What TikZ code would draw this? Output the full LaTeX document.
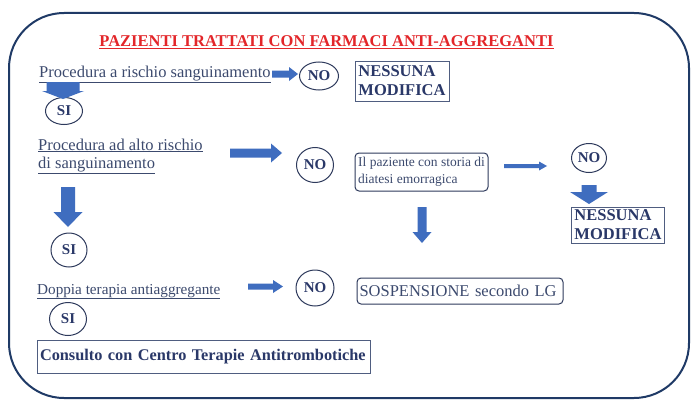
\documentclass[tikz,border=0pt]{standalone}
\usepackage{fontspec}
\setmainfont{Liberation Serif}
\usetikzlibrary{shapes.geometric,calc}
\definecolor{framec}{HTML}{1F3A66}
\definecolor{slatec}{HTML}{3C4A6E}
\definecolor{navyc}{HTML}{2A3868}
\definecolor{blkc}{HTML}{3F6DBF}
\definecolor{circc}{HTML}{2E3A5C}
\definecolor{boxc}{HTML}{4F5D80}
\definecolor{titlec}{HTML}{E3262A}
\newcommand{\hblk}[5]{\fill[blk] let \p1=(#1), \p2=(#2) in
  ({\x1},{\y1+#3/2}) -- ({\x2-#5},{\y1+#3/2}) -- ({\x2-#5},{\y1+#4/2}) -- ({\x2},{\y1})
  -- ({\x2-#5},{\y1-#4/2}) -- ({\x2-#5},{\y1-#3/2}) -- ({\x1},{\y1-#3/2}) -- cycle;}
\newcommand{\vblk}[5]{\fill[blk] let \p1=(#1), \p2=(#2) in
  ({\x1-#3/2},{\y1}) -- ({\x1-#3/2},{\y2+#5}) -- ({\x1-#4/2},{\y2+#5}) -- ({\x1},{\y2})
  -- ({\x1+#4/2},{\y2+#5}) -- ({\x1+#3/2},{\y2+#5}) -- ({\x1+#3/2},{\y1}) -- cycle;}
\tikzset{
  blk/.style={fill=blkc},
  frame/.style={draw=framec, line width=2pt, rounded corners=55pt},
  lbl/.style={inner sep=0pt, anchor=base west, text=slatec, font=\fontsize{16.5}{19}\selectfont},
  yn/.style={ellipse, draw=circc, line width=1pt, inner sep=0pt, text=navyc,
    font=\fontsize{15}{17}\selectfont\bfseries},
  nmbox/.style={draw=boxc, line width=1pt, align=left, text=navyc, inner xsep=3pt, inner ysep=0pt,
    font=\fontsize{16.5}{19}\selectfont\bfseries},
  rbox/.style={draw=circc, line width=1pt, rounded corners=4pt, align=left, text=slatec}
}
\begin{document}
\begin{tikzpicture}[x=1pt,y=-1pt]
\useasboundingbox (0,0) rectangle (692,412);
\fill[white] (0,0) rectangle (692,412);
\draw[frame] (9,13) rectangle (689,398);

\node[inner sep=0pt, anchor=base, text=titlec, font=\fontsize{16.5}{19}\selectfont\bfseries]
  (title) at (326.5,47) {\underline{PAZIENTI TRATTATI CON FARMACI ANTI-AGGREGANTI}};

\node[lbl] (t1) at (39,77) {\underline{Procedura a rischio sanguinamento}};
\node[yn, minimum width=39pt, minimum height=28pt] (no1) at (319,76) {NO};
\node[nmbox, minimum width=94pt, minimum height=40pt] (nm1) at (402,81) {NESSUNA\\MODIFICA};
\node[yn, minimum width=37pt, minimum height=27pt] (si1) at (64,111) {SI};

\node[lbl] (t2a) at (38,150) {\underline{Procedura ad alto rischio}};
\node[lbl] (t2b) at (38,168) {\underline{di sanguinamento}};
\node[yn, minimum width=37pt, minimum height=35pt] (no2) at (315,165) {NO};
\node[rbox, inner xsep=1.5pt, inner ysep=2pt, minimum width=133pt, minimum height=38pt,
  font=\fontsize{13.5}{17}\selectfont] (paz) at (421.5,172) {Il paziente con storia di\\diatesi emorragica};
\node[yn, minimum width=35pt, minimum height=29pt] (no3) at (589,158) {NO};
\node[nmbox, minimum width=92pt, minimum height=36pt] (nm2) at (618,225) {NESSUNA\\MODIFICA};

\node[yn, minimum width=36pt, minimum height=34pt] (si2) at (69,250) {SI};
\node[lbl, font=\fontsize{15.2}{18}\selectfont] (t3) at (37,294) {\underline{Doppia terapia antiaggregante}};
\node[yn, minimum width=38pt, minimum height=36pt] (no4) at (315,288) {NO};
\node[rbox, inner xsep=2.5pt, inner ysep=0pt, text width=201pt, minimum height=26pt,
  font=\fontsize{16.5}{19}\selectfont] (sosp) at (460,291) {SOSPENSIONE secondo LG};
\node[yn, minimum width=37pt, minimum height=33pt] (si3) at (68,319) {SI};
\node[draw=boxc, line width=1pt, align=left, text=navyc, inner xsep=3pt, inner ysep=0pt,
  text width=327pt, minimum height=33pt, font=\fontsize{16.3}{19}\selectfont\bfseries]
  (cons) at (203.5,356.5) {Consulto con Centro Terapie Antitrombotiche};

\coordinate (a1s) at (272,74);   \coordinate (a1e) at (298,74);
\coordinate (a2s) at (63,82);    \coordinate (a2e) at (63,99);
\coordinate (a3s) at (230,153);  \coordinate (a3e) at (282,153);
\coordinate (a4s) at (504,166);  \coordinate (a4e) at (547,166);
\coordinate (a5s) at (589,185);  \coordinate (a5e) at (589,204);
\coordinate (a6s) at (422,207);  \coordinate (a6e) at (422,243);
\coordinate (a7s) at (68,187);   \coordinate (a7e) at (68,227);
\coordinate (a8s) at (248,286.5);\coordinate (a8e) at (283,286.5);

\hblk{a1s}{a1e}{7pt}{14pt}{9pt}
\vblk{a2s}{a2e}{33pt}{42pt}{8pt}
\hblk{a3s}{a3e}{9pt}{19pt}{11pt}
\hblk{a4s}{a4e}{4pt}{9pt}{8pt}
\vblk{a5s}{a5e}{15pt}{38pt}{12pt}
\vblk{a6s}{a6e}{9pt}{19pt}{11pt}
\vblk{a7s}{a7e}{14pt}{29pt}{15pt}
\hblk{a8s}{a8e}{6pt}{13pt}{10pt}
\end{tikzpicture}
\end{document}
